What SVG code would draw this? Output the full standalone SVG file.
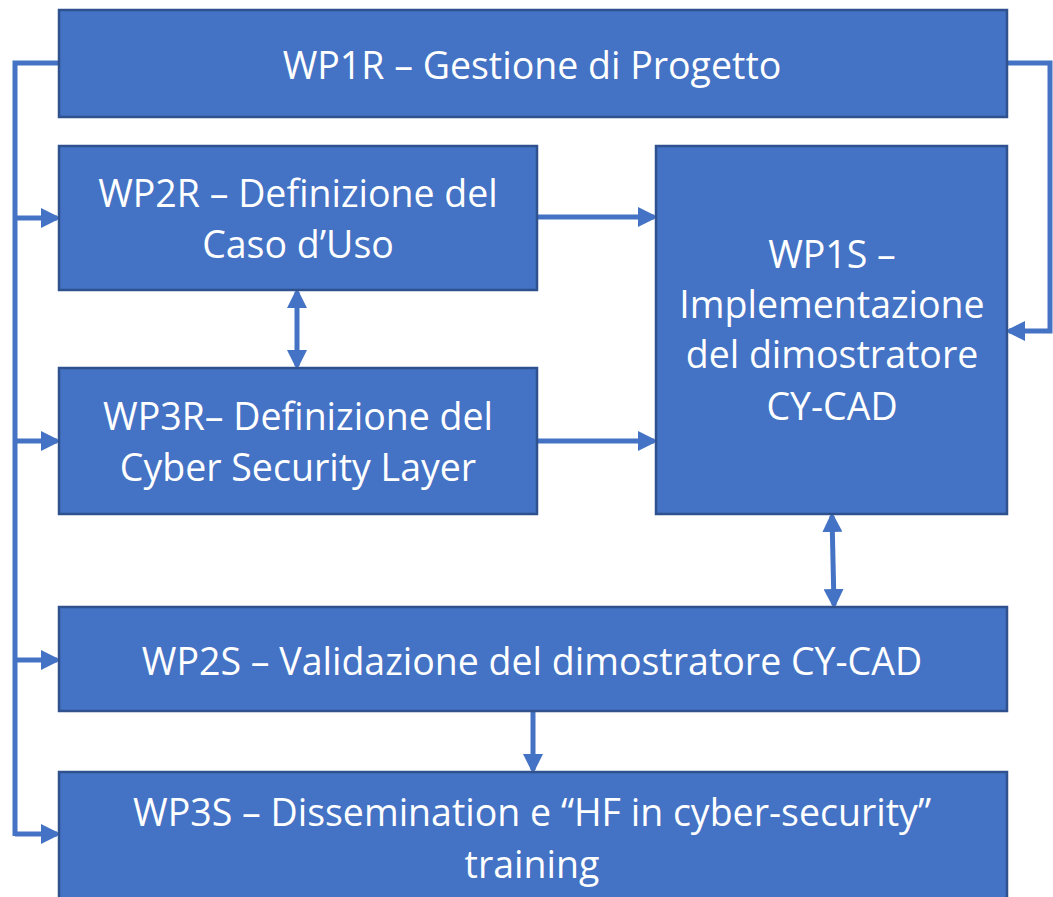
<svg xmlns="http://www.w3.org/2000/svg" width="1053" height="897" viewBox="0 0 1053 897">
<defs>
<marker id="ah" markerWidth="4" markerHeight="4" refX="3.2" refY="2" orient="auto-start-reverse" markerUnits="strokeWidth"><path d="M0,0 L4,2 L0,4 z" fill="#4472C4"/></marker>
<style>
.box{fill:#4472C4;stroke:#2F528F;stroke-width:2.5}
.t{font-family:"Open Sans","Liberation Sans",sans-serif;font-size:37.5px;fill:#fff;text-anchor:middle}
.c{fill:none;stroke:#4472C4;stroke-width:5}
</style>
</defs>
<rect width="1053" height="897" fill="#fff"/>
<g id="connectors">
<polyline class="c" points="59,63 15,63 15,836"/>
<line class="c" x1="15" y1="218" x2="57" y2="218" marker-end="url(#ah)"/>
<line class="c" x1="15" y1="441" x2="57" y2="441" marker-end="url(#ah)"/>
<line class="c" x1="15" y1="660" x2="57" y2="660" marker-end="url(#ah)"/>
<line class="c" x1="15" y1="834" x2="57" y2="834" marker-end="url(#ah)"/>
<polyline class="c" points="1007,63 1050,63 1050,331 1009,331" marker-end="url(#ah)"/>
<line class="c" x1="537" y1="217" x2="654" y2="217" marker-end="url(#ah)"/>
<line class="c" x1="537" y1="441" x2="654" y2="441" marker-end="url(#ah)"/>
<line class="c" x1="297" y1="292" x2="297" y2="366" marker-start="url(#ah)" marker-end="url(#ah)"/>
<line class="c" x1="832" y1="516" x2="834" y2="605" marker-start="url(#ah)" marker-end="url(#ah)"/>
<line class="c" x1="533" y1="711" x2="533" y2="770" marker-end="url(#ah)"/>
</g>
<g id="wp1r"><rect class="box" x="59" y="10" width="948" height="107"/><text class="t" x="532" y="79">WP1R – Gestione di Progetto</text></g>
<g id="wp2r"><rect class="box" x="59" y="146" width="478" height="144"/><text class="t" x="298" y="207">WP2R – Definizione del</text><text class="t" x="298" y="258">Caso d’Uso</text></g>
<g id="wp3r"><rect class="box" x="59" y="368" width="478" height="146"/><text class="t" x="298" y="430">WP3R– Definizione del</text><text class="t" x="298" y="481">Cyber Security Layer</text></g>
<g id="wp1s"><rect class="box" x="656" y="146" width="351" height="368"/><text class="t" x="832" y="268">WP1S –</text><text class="t" x="832" y="318">Implementazione</text><text class="t" x="832" y="368">del dimostratore</text><text class="t" x="832" y="420">CY-CAD</text></g>
<g id="wp2s"><rect class="box" x="59" y="607" width="948" height="104"/><text class="t" x="532" y="675">WP2S – Validazione del dimostratore CY-CAD</text></g>
<g id="wp3s"><rect class="box" x="59" y="772" width="948" height="140"/><text class="t" x="532" y="826">WP3S – Dissemination e “HF in cyber-security”</text><text class="t" x="532" y="878">training</text></g>
</svg>
